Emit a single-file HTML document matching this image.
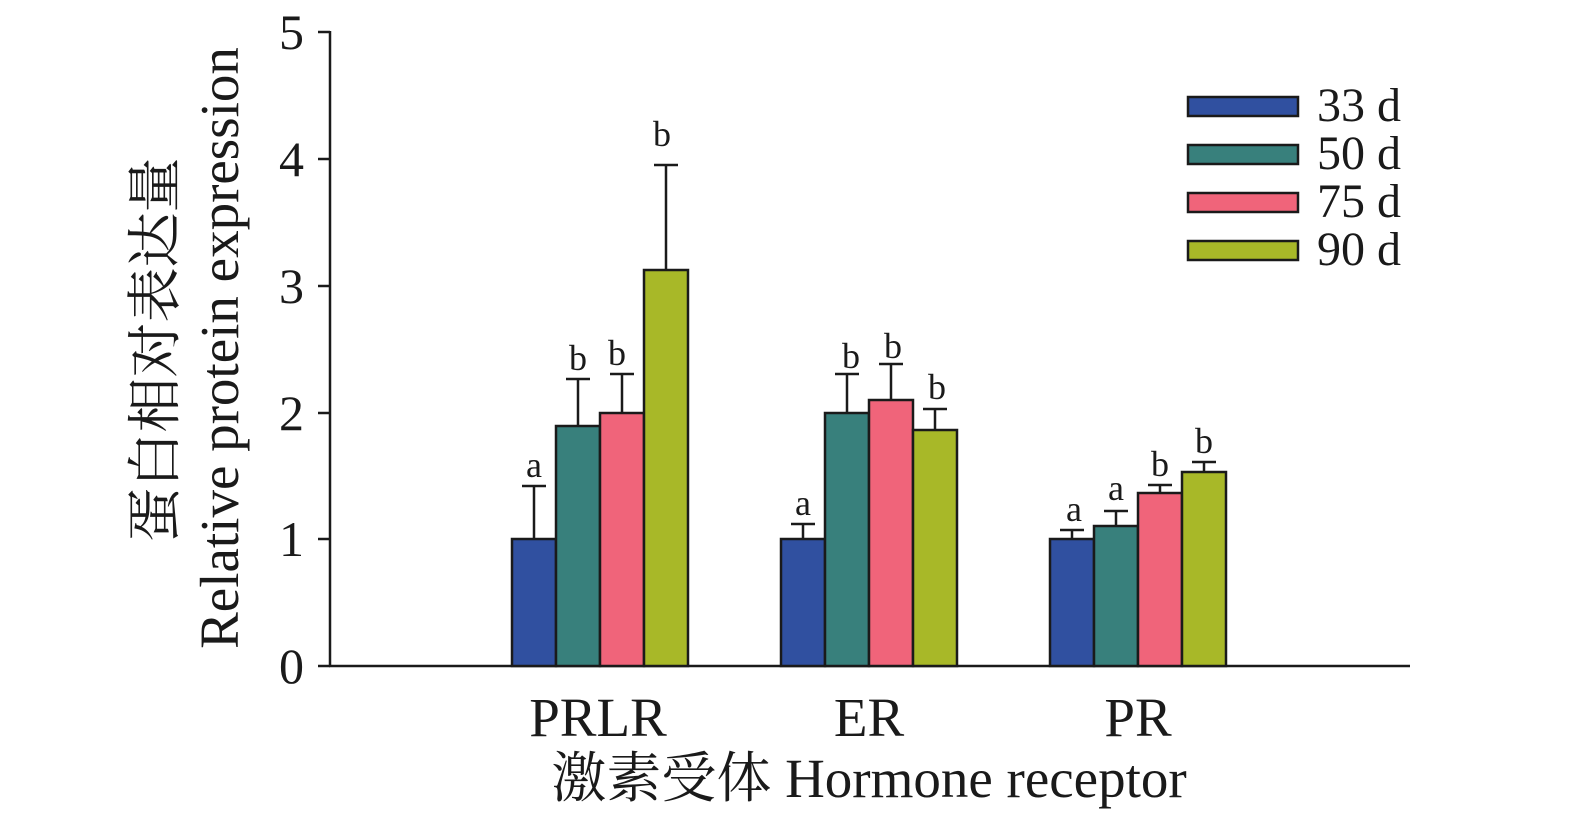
<!DOCTYPE html>
<html><head><meta charset="utf-8"><style>
html,body{margin:0;padding:0;background:#fff;}
svg text{font-family:"Liberation Serif","Noto Serif CJK SC",serif;fill:#1a1a1a;}
</style></head><body>
<svg width="1575" height="816" xmlns="http://www.w3.org/2000/svg">
<g stroke="#1a1a1a" stroke-width="2.5" fill="none">
<line x1="330" y1="31" x2="330" y2="667"/>
<line x1="329" y1="666" x2="1410" y2="666"/>
<line x1="318" y1="32" x2="330" y2="32"/>
<line x1="318" y1="159" x2="330" y2="159"/>
<line x1="318" y1="286" x2="330" y2="286"/>
<line x1="318" y1="413" x2="330" y2="413"/>
<line x1="318" y1="539" x2="330" y2="539"/>
<line x1="318" y1="666" x2="330" y2="666"/>
</g>
<g font-size="50" text-anchor="end">
<text x="304" y="49">5</text><text x="304" y="176">4</text><text x="304" y="303">3</text>
<text x="304" y="430">2</text><text x="304" y="556">1</text><text x="304" y="683">0</text>
</g>
<g stroke="#1a1a1a" stroke-width="2.5">
<line x1="534" y1="539" x2="534" y2="486"/><line x1="522" y1="486" x2="546" y2="486"/>
<line x1="578" y1="426" x2="578" y2="379"/><line x1="566" y1="379" x2="590" y2="379"/>
<line x1="622" y1="413" x2="622" y2="374"/><line x1="610" y1="374" x2="634" y2="374"/>
<line x1="666" y1="270" x2="666" y2="165"/><line x1="654" y1="165" x2="678" y2="165"/>
<line x1="803" y1="539" x2="803" y2="524"/><line x1="791" y1="524" x2="815" y2="524"/>
<line x1="847" y1="413" x2="847" y2="374"/><line x1="835" y1="374" x2="859" y2="374"/>
<line x1="891" y1="400" x2="891" y2="364"/><line x1="879" y1="364" x2="903" y2="364"/>
<line x1="935" y1="430" x2="935" y2="409"/><line x1="923" y1="409" x2="947" y2="409"/>
<line x1="1072" y1="539" x2="1072" y2="530"/><line x1="1060" y1="530" x2="1084" y2="530"/>
<line x1="1116" y1="526" x2="1116" y2="511"/><line x1="1104" y1="511" x2="1128" y2="511"/>
<line x1="1160" y1="493" x2="1160" y2="485"/><line x1="1148" y1="485" x2="1172" y2="485"/>
<line x1="1204" y1="472" x2="1204" y2="462"/><line x1="1192" y1="462" x2="1216" y2="462"/>
</g>
<g stroke="#1a1a1a" stroke-width="2.5">
<rect x="512" y="539" width="44" height="127" fill="#3050a0"/>
<rect x="556" y="426" width="44" height="240" fill="#38807c"/>
<rect x="600" y="413" width="44" height="253" fill="#f0647a"/>
<rect x="644" y="270" width="44" height="396" fill="#a8b828"/>
<rect x="781" y="539" width="44" height="127" fill="#3050a0"/>
<rect x="825" y="413" width="44" height="253" fill="#38807c"/>
<rect x="869" y="400" width="44" height="266" fill="#f0647a"/>
<rect x="913" y="430" width="44" height="236" fill="#a8b828"/>
<rect x="1050" y="539" width="44" height="127" fill="#3050a0"/>
<rect x="1094" y="526" width="44" height="140" fill="#38807c"/>
<rect x="1138" y="493" width="44" height="173" fill="#f0647a"/>
<rect x="1182" y="472" width="44" height="194" fill="#a8b828"/>
</g>
<g font-size="36" text-anchor="middle">
<text x="534" y="477">a</text><text x="578" y="370">b</text><text x="617" y="365">b</text><text x="662" y="146">b</text>
<text x="803" y="515">a</text><text x="851" y="368">b</text><text x="893" y="358">b</text><text x="937" y="399">b</text>
<text x="1074" y="521">a</text><text x="1116" y="500">a</text><text x="1160" y="476">b</text><text x="1204" y="453">b</text>
</g>
<g stroke="#1a1a1a" stroke-width="2.5">
<rect x="1188" y="97" width="110" height="19" fill="#3050a0"/>
<rect x="1188" y="145" width="110" height="19" fill="#38807c"/>
<rect x="1188" y="193" width="110" height="19" fill="#f0647a"/>
<rect x="1188" y="241" width="110" height="19" fill="#a8b828"/>
</g>
<g font-size="48">
<text x="1317" y="121">33 d</text><text x="1317" y="169">50 d</text>
<text x="1317" y="217">75 d</text><text x="1317" y="265">90 d</text>
</g>
<g font-size="55" text-anchor="middle">
<text x="598" y="736">PRLR</text><text x="869" y="736">ER</text><text x="1138" y="736">PR</text>
<text x="869" y="797">激素受体 Hormone receptor</text>
</g>
<g font-size="55" text-anchor="middle">
<text transform="translate(238,348) rotate(-90)">Relative protein expression</text>
<text transform="translate(174,350) rotate(-90)">蛋白相对表达量</text>
</g>
</svg>
</body></html>
